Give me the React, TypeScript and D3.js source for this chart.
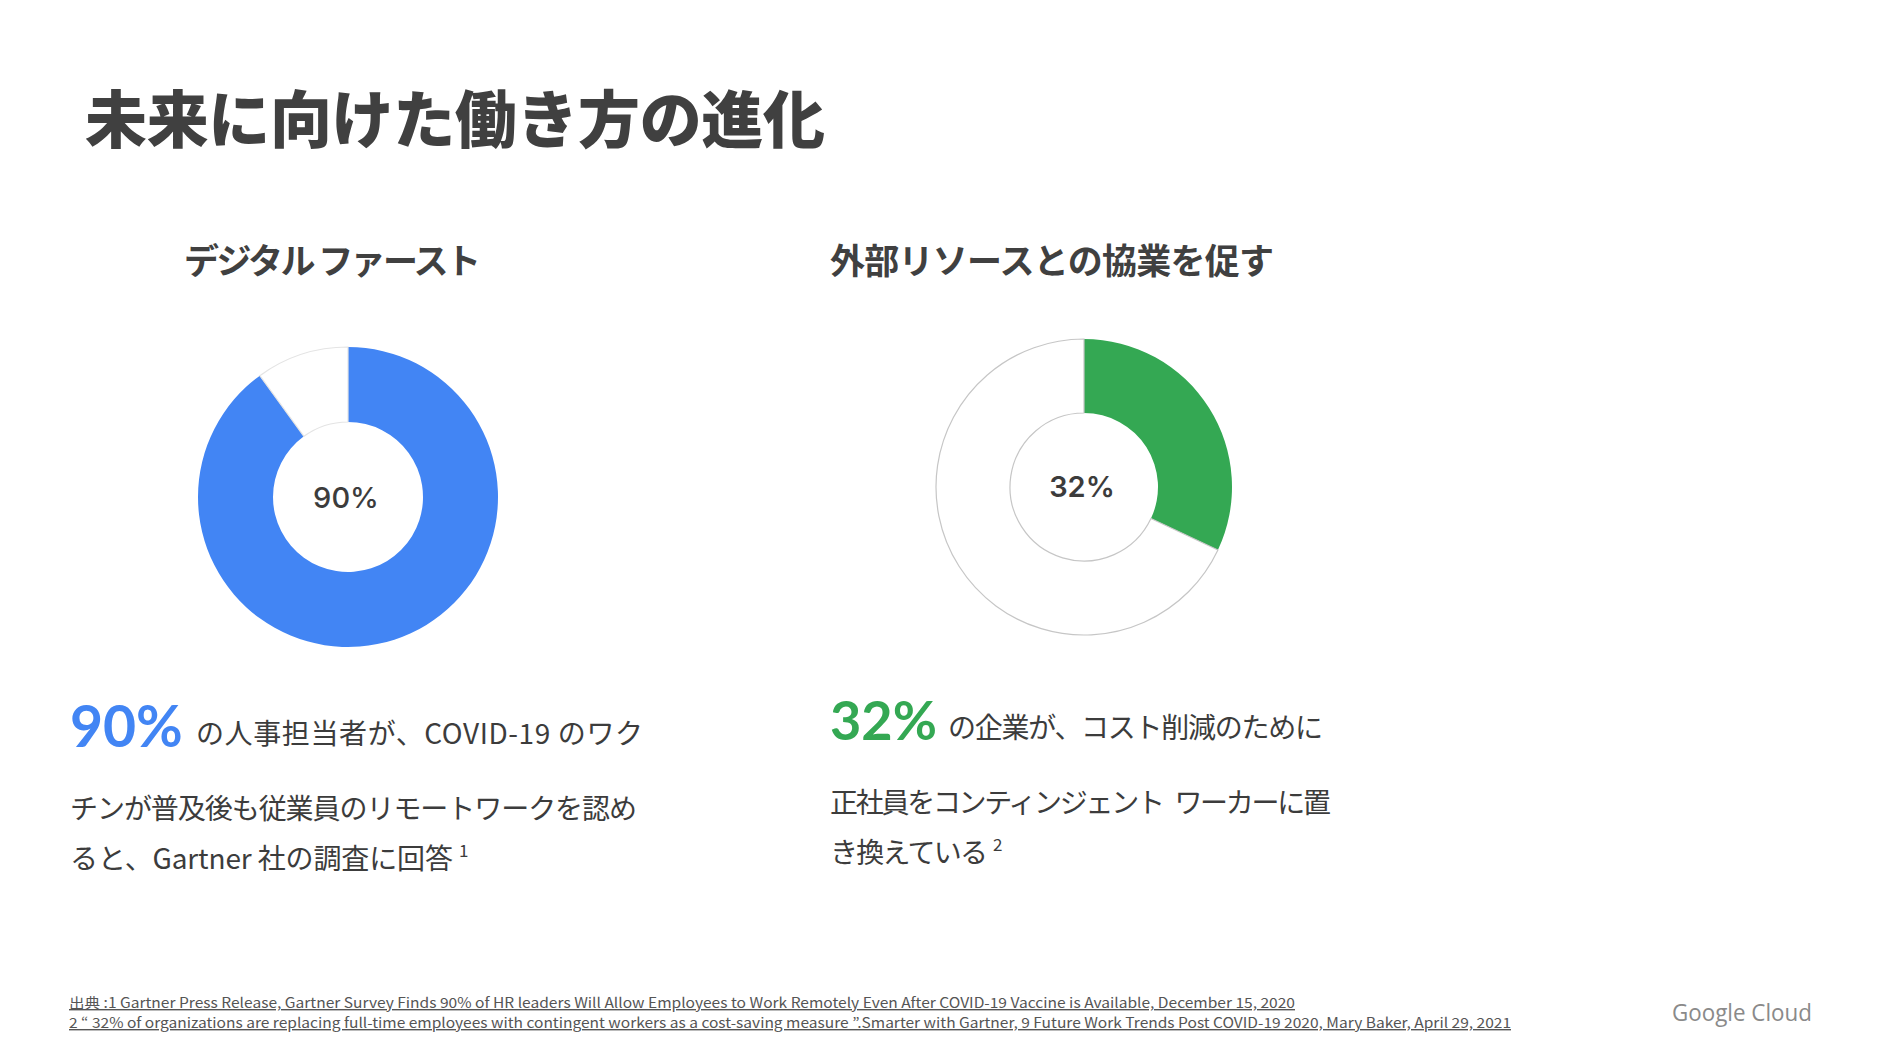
import React, { useEffect } from 'react';
import * as d3 from 'd3';

// ---- data ----
const pageTitle = '未来に向けた働き方の進化';
const donutTitles = ['デジタル ファースト', '外部リソースとの協業を促す'];
const donutValues = [90, 32];
const donutCenterLabels = ['90%', '32%'];
const bodyLead = ['90%', '32%'];
const bodyLinesLeft = ['の人事担当者が、COVID-19 のワク', 'チンが普及後も従業員のリモートワークを認め', 'ると、Gartner 社の調査に回答'];
const bodyLinesRight = ['の企業が、コスト削減のために', '正社員をコンティンジェント\u2002ワーカーに置', 'き換えている'];
const footnoteMarks = ['1', '2'];
const footnotes = [
  '出典 :1 Gartner Press Release, Gartner Survey Finds 90% of HR leaders Will Allow Employees to Work Remotely Even After COVID-19 Vaccine is Available, December 15, 2020',
  '2 “ 32% of organizations are replacing full-time employees with contingent workers as a cost-saving measure ”.Smarter with Gartner, 9 Future Work Trends Post COVID-19 2020, Mary Baker, April 29, 2021',
];
const brand = 'Google Cloud';

// ---- styles ----
const W = 1894;
const H = 1052;
const JP = '"Noto Sans CJK JP", "Noto Sans", sans-serif';
const NUM = 'Inter, "Noto Sans", sans-serif';
const BIG = 'Lato, "Noto Sans", sans-serif';
const TEXT = '#3c3c3c';
const accent = ['#4285F4', '#34A853'];
const restStroke = ['#e4e4e4', '#c6c6c6'];

const donuts = [
  { cx: 348, cy: 497, r: 150, ir: 75 },
  { cx: 1084, cy: 487, r: 148, ir: 74 },
];

function Donut({ i }: { i: number }) {
  const d = donuts[i];
  const pie = d3.pie<number>().sort(null).value((v) => v);
  const arcs = pie([donutValues[i], 100 - donutValues[i]]);
  const arc = d3.arc<d3.PieArcDatum<number>>().innerRadius(d.ir).outerRadius(d.r);
  return (
    <g transform={`translate(${d.cx},${d.cy})`}>
      {arcs.map((a, k) => (
        <path
          key={k}
          d={arc(a) || ''}
          fill={k === 0 ? accent[i] : '#ffffff'}
          stroke={k === 0 ? 'none' : restStroke[i]}
          strokeWidth={1.2}
        />
      ))}
      <text
        x={-2}
        y={i === 0 ? 11 : 10}
        textAnchor="middle"
        fontFamily={NUM}
        fontWeight={i === 0 ? 500 : 600}
        fontSize={29}
        fill={TEXT}
      >
        {donutCenterLabels[i]}
      </text>
    </g>
  );
}

export default function App() {
  useEffect(() => {
    document.body.style.margin = '0';
  }, []);

  return (
    <svg width={W} height={H} viewBox={`0 0 ${W} ${H}`} style={{ display: 'block', background: '#fff' }}>
      <rect x={0} y={0} width={W} height={H} fill="#ffffff" />

      {/* Title */}
      <text x={85} y={143} fontFamily={JP} fontWeight={900} fontSize={62} fill="#404040" textLength={740} lengthAdjust="spacing">
        {pageTitle}
      </text>

      {/* Donut titles */}
      <text x={184} y={274} fontFamily={JP} fontWeight={700} fontSize={35} fill="#404040" textLength={297} lengthAdjust="spacing">
        {donutTitles[0]}
      </text>
      <text x={830} y={274} fontFamily={JP} fontWeight={700} fontSize={35} fill="#404040" textLength={444} lengthAdjust="spacing">
        {donutTitles[1]}
      </text>

      <Donut i={0} />
      <Donut i={1} />

      {/* Left body */}
      <text x={70} y={747} fontFamily={BIG} fontWeight={700} fontSize={57} fill={accent[0]}>
        {bodyLead[0]}
      </text>
      <text x={196} y={744} fontFamily={JP} fontSize={28} fill={TEXT} textLength={447} lengthAdjust="spacing">
        {bodyLinesLeft[0]}
      </text>
      <text x={70} y={819} fontFamily={JP} fontSize={28} fill={TEXT} textLength={567} lengthAdjust="spacing">
        {bodyLinesLeft[1]}
      </text>
      <text x={70} y={869} fontFamily={JP} fontSize={28} fill={TEXT} textLength={383} lengthAdjust="spacing">
        {bodyLinesLeft[2]}
      </text>
      <text x={459} y={857} fontFamily={JP} fontSize={17} fill={TEXT}>
        {footnoteMarks[0]}
      </text>

      {/* Right body */}
      <text x={830} y={740} fontFamily={BIG} fontWeight={700} fontSize={54} fill={accent[1]}>
        {bodyLead[1]}
      </text>
      <text x={948} y={738} fontFamily={JP} fontSize={28} fill={TEXT} textLength={375} lengthAdjust="spacing">
        {bodyLinesRight[0]}
      </text>
      <text x={830} y={813} fontFamily={JP} fontSize={28} fill={TEXT} textLength={501} lengthAdjust="spacing">
        {bodyLinesRight[1]}
      </text>
      <text x={830} y={863} fontFamily={JP} fontSize={28} fill={TEXT} textLength={158} lengthAdjust="spacing">
        {bodyLinesRight[2]}
      </text>
      <text x={993} y={851} fontFamily={JP} fontSize={17} fill={TEXT}>
        {footnoteMarks[1]}
      </text>

      {/* Footnotes */}
      <text x={69} y={1008} fontFamily={JP} fontSize={14} fill="#555" textDecoration="underline" textLength={1226} lengthAdjust="spacingAndGlyphs">
        {footnotes[0]}
      </text>
      <text x={69} y={1028} fontFamily={JP} fontSize={14} fill="#555" textDecoration="underline" textLength={1442} lengthAdjust="spacingAndGlyphs">
        {footnotes[1]}
      </text>

      {/* Brand */}
      <text x={1672} y={1021} fontFamily='"Open Sans", sans-serif' fontSize={23} fill="#8a8a8a" textLength={140} lengthAdjust="spacingAndGlyphs">
        {brand}
      </text>
    </svg>
  );
}
